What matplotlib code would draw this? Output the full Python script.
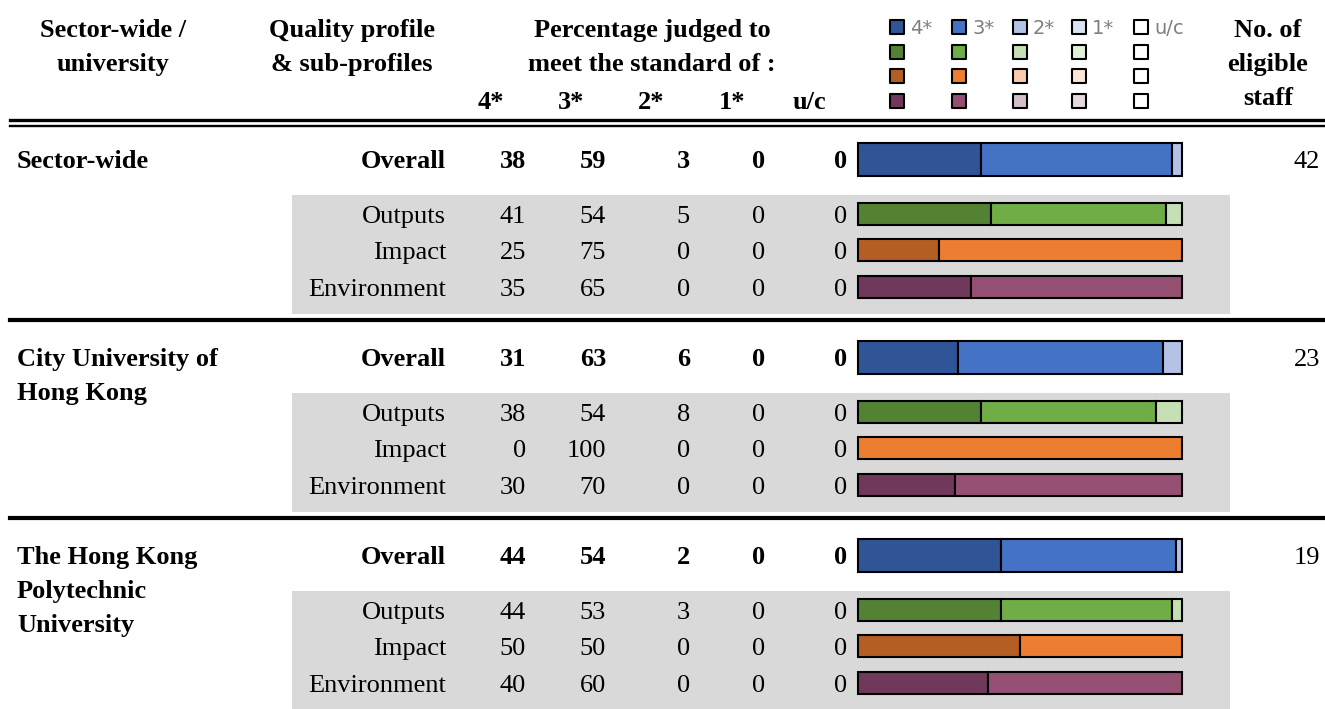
import matplotlib.pyplot as plt
from matplotlib.patches import Rectangle

# Data
groups = [["Sector-wide"], ["City University of", "Hong Kong"],
          ["The Hong Kong", "Polytechnic", "University"]]
profiles = ["Overall", "Outputs", "Impact", "Environment"]
stars = ["4*", "3*", "2*", "1*", "u/c"]
staff = [42, 23, 19]

sector_wide = [[38, 59, 3, 0, 0], [41, 54, 5, 0, 0], [25, 75, 0, 0, 0], [35, 65, 0, 0, 0]]
cityu = [[31, 63, 6, 0, 0], [38, 54, 8, 0, 0], [0, 100, 0, 0, 0], [30, 70, 0, 0, 0]]
polyu = [[44, 54, 2, 0, 0], [44, 53, 3, 0, 0], [50, 50, 0, 0, 0], [40, 60, 0, 0, 0]]
tables = [sector_wide, cityu, polyu]

colors = [
    ["#2F5597", "#4472C4", "#B4C2E6", "#DAE3F3", "#FFFFFF"],  # overall
    ["#548235", "#70AD47", "#C5E0B4", "#E2F0D9", "#FFFFFF"],  # outputs
    ["#B55E23", "#ED7D31", "#F8CBAD", "#FBE5D6", "#FFFFFF"],  # impact
    ["#70385A", "#954F72", "#D2BFCA", "#E6DAE1", "#FFFFFF"],  # environment
]

W, H = 1325, 709
serif = "Liberation Serif"
fs = 19

fig = plt.figure(figsize=(W / 100, H / 100), dpi=100)
ax = fig.add_axes([0, 0, 1, 1])
ax.set_xlim(0, W)
ax.set_ylim(H, 0)
ax.axis("off")

bx0, bx1 = 858, 1182
bax = fig.add_axes([bx0 / W, 0, (bx1 - bx0) / W, 1], zorder=3)
bax.set_xlim(0, 100)
bax.set_ylim(H, 0)
bax.axis("off")
bax.patch.set_visible(False)

# header
def header(x, lines, y0=28):
    for i, t in enumerate(lines):
        ax.text(x, y0 + 34 * i + 9, t, ha="center", va="baseline",
                fontsize=fs, fontweight="bold", family=serif)

header(113, ["Sector-wide /", "university"])
header(352, ["Quality profile", "& sub-profiles"])
header(652, ["Percentage judged to", "meet the standard of :"])
header(1268, ["No. of", "eligible", "staff"], y0=28)
for x, s in zip([478, 558, 638, 719, 793], stars):
    ax.text(x, 109, s, ha="left", va="baseline", fontsize=fs,
            fontweight="bold", family=serif)

# legend squares
leg_x = [897, 959, 1020, 1079, 1141]
leg_y = [27, 52, 76, 101]
for r, yy in enumerate(leg_y):
    for c, xx in enumerate(leg_x):
        ax.scatter(xx, yy, s=105, marker="s", color=colors[r][c],
                   edgecolor="black", linewidth=1.5, zorder=3)
for c, xx in enumerate(leg_x):
    ax.text(xx + 13, 28, stars[c], ha="left", va="center", fontsize=14,
            color="#7F7F7F", family="DejaVu Sans")

# rules
ax.plot([10, W], [119.5, 119.5], color="black", lw=2.4)
ax.plot([10, W], [125.5, 125.5], color="black", lw=1.7)

val_x = [526, 606, 690, 765, 847]
row_off = [37, 92, 128, 165]
for g, tab in enumerate(tables):
    top = 122 + 198 * g
    if g > 0:
        ax.plot([10, W], [top, top], color="black", lw=3.0)
    ax.add_patch(Rectangle((292, top + 73), 1230 - 292, 119,
                           facecolor="#D9D9D9", edgecolor="none", zorder=0))
    for i, line in enumerate(groups[g]):
        ax.text(17, top + row_off[0] + 34 * i + 9, line, ha="left", va="baseline",
                fontsize=fs, fontweight="bold", family=serif)
    ax.text(1320, top + row_off[0] + 9, str(staff[g]), ha="right", va="baseline",
            fontsize=fs, family=serif)
    for r, vals in enumerate(tab):
        y = top + row_off[r]
        wt = "bold" if r == 0 else "normal"
        ax.text(446, y + 9, profiles[r], ha="right", va="baseline",
                fontsize=fs, fontweight=wt, family=serif)
        for x, v in zip(val_x, vals):
            ax.text(x, y + 9, str(v), ha="right", va="baseline",
                    fontsize=fs, fontweight=wt, family=serif)
        left = 0
        h = 33 if r == 0 else 22
        for c, v in enumerate(vals):
            if v > 0:
                bax.barh(y, v, left=left, height=h, color=colors[r][c],
                         edgecolor="black", linewidth=1.5, clip_on=False)
            left += v

fig.savefig("out.png", dpi=100)
